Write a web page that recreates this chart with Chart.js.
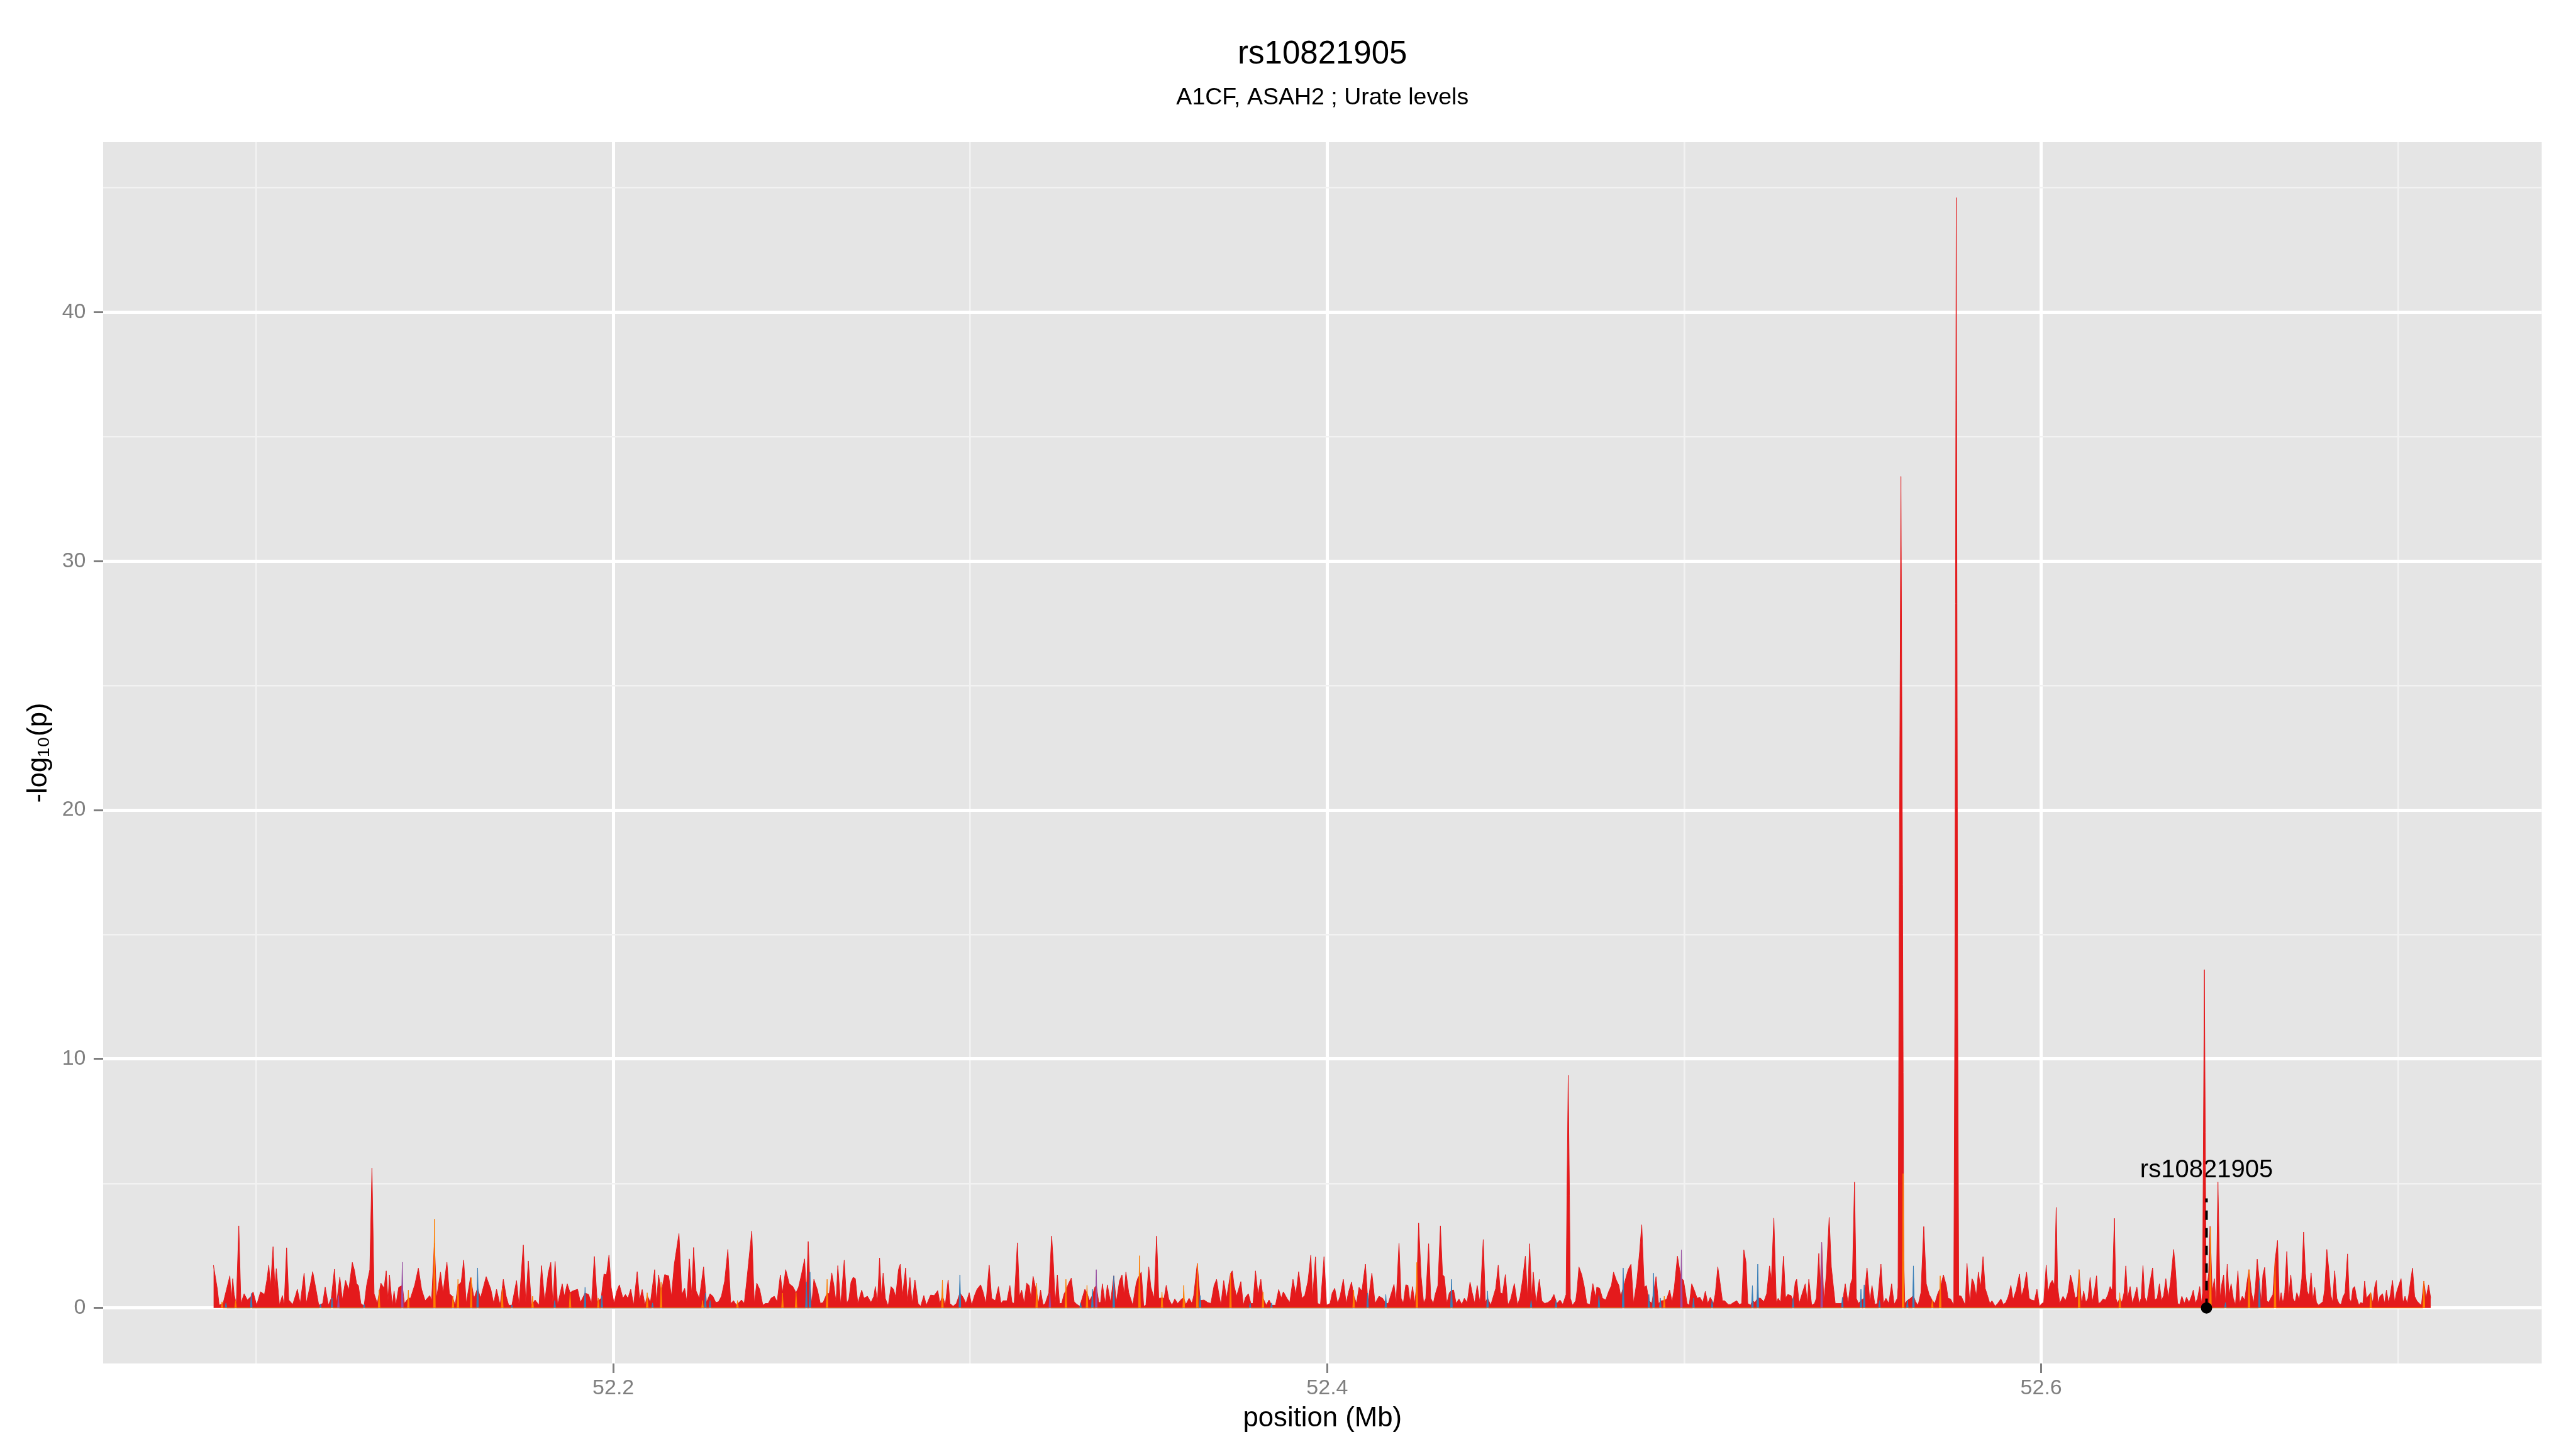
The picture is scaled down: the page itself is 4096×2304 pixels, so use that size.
<!DOCTYPE html>
<html>
<head>
<meta charset="utf-8">
<title>rs10821905</title>
<script src="https://cdn.jsdelivr.net/npm/chart.js@4.4.1/dist/chart.umd.min.js"></script>
<style>
html, body { margin: 0; padding: 0; background: #ffffff; overflow: hidden; }
#wrap { width: 4096px; height: 2304px; }
</style>
</head>
<body>
<div id="wrap"><canvas id="chart" width="4096" height="2304"></canvas></div>
<script>
// Positions are in kb above 52 Mb, values are -log10(p).

var redKb = [
    // 52.088 - 52.250
    88.0, 89.1, 89.6, 90.7, 92.6, 93.0, 93.4, 93.8, 94.4, 95.1,
    95.7, 96.6, 97.5, 98.6, 99.1, 100.1, 101.2, 102.3, 103.0, 103.5,
    104.0, 104.7, 105.2, 105.6, 106.5, 107.3, 107.8, 108.5, 109.1, 110.2,
    111.0, 111.5, 112.3, 113.4, 114.0, 115.1, 115.8, 116.8, 117.5, 118.6,
    119.3, 120.2, 121.0, 121.9, 122.5, 123.4, 124.1, 125.0, 125.9, 126.9,
    127.5, 128.1, 128.6, 129.3, 130.2, 130.9, 131.8, 132.4, 133.0, 133.9,
    134.9, 135.8, 136.4, 136.9, 137.3, 138.1, 138.6, 139.1, 139.9, 140.9,
    141.5, 142.6, 143.2, 144.4, 145.4, 146.3, 147.3, 148.6, 149.1, 149.9,
    150.5, 151.6, 152.3, 153.4, 154.1, 154.9, 155.7, 156.5, 157.4, 158.1,
    158.8, 160.0, 161.0, 162.0, 162.8, 164.4, 165.7, 166.5, 167.3, 168.3,
    169.2, 170.0, 170.7, 171.6, 172.9, 173.6, 174.8, 175.5, 176.2, 177.1,
    178.1, 179.2, 179.9, 180.8, 181.8, 182.5, 183.1, 183.7, 184.4, 185.7,
    186.3, 187.1, 187.9, 188.6, 190.0, 190.8, 192.1, 193.1, 193.9, 194.7,
    195.5, 196.6, 197.4, 198.1, 198.8, 199.4, 200.2, 201.0, 201.7, 202.7,
    203.4, 204.1, 204.9, 205.7, 206.7, 207.4, 208.1, 208.9, 209.5, 210.4,
    211.6, 212.1, 212.7, 213.4, 214.4, 215.5, 216.3, 217.1, 218.4, 219.2,
    220.0, 220.6, 221.3, 222.0, 222.5, 223.2, 224.1, 225.3, 226.1, 227.1,
    227.9, 228.7, 229.5, 230.3, 231.2, 232.1, 232.9, 233.7, 234.5, 235.9,
    236.7, 237.4, 238.8, 239.5, 240.2, 241.0, 241.9, 242.6, 243.4, 244.2,
    245.1, 245.9, 246.8, 247.4, 248.3, 249.3, 250.3,
    // 52.250 - 52.416
    251.2, 251.9, 252.7, 253.6, 254.1, 254.6, 255.1, 255.6, 256.2, 257.2,
    258.0, 258.8, 259.9, 260.5, 261.2, 261.8, 262.4, 262.9, 263.7, 264.7,
    265.4, 266.0, 266.6, 267.2, 267.8, 268.5, 269.6, 270.2, 271.2, 272.2,
    273.0, 273.4, 274.0, 274.6, 275.1, 275.6, 276.2, 277.0, 277.8, 278.5,
    279.1, 279.9, 280.4, 281.0, 281.9, 282.4, 283.1, 283.7, 284.5, 285.4,
    286.1, 287.0, 287.7, 288.9, 289.9, 290.9, 291.5, 292.2, 293.0, 293.8,
    294.3, 295.2, 296.1, 297.1, 298.0, 298.8, 299.7, 300.4, 301.2, 301.9,
    302.9, 303.5, 304.4, 305.3, 306.0, 307.0, 307.9, 308.6, 309.2, 310.3,
    311.1, 311.7, 312.3, 313.2, 313.8, 314.4, 315.1, 315.8, 316.5, 317.0,
    317.6, 318.6, 319.1, 319.7, 320.4, 321.0, 322.0, 322.8, 323.3, 323.8,
    324.4, 325.0, 325.6, 326.3, 326.8, 327.5, 328.3, 329.1, 329.9, 330.7,
    332.1, 332.7, 333.4, 334.2, 334.9, 335.3, 336.0, 336.5, 337.0, 337.8,
    338.4, 339.3, 340.2, 340.9, 341.8, 342.5, 343.1, 343.6, 344.4, 345.5,
    346.5, 347.0, 347.4, 347.9, 348.6, 349.2, 350.0, 350.6, 351.5, 352.2,
    352.8, 353.7, 354.3, 354.9, 355.6, 356.5, 357.3, 358.1, 359.2, 359.8,
    360.4, 361.3, 362.1, 362.6, 363.6, 364.4, 365.5, 366.5, 367.4, 368.3,
    369.0, 369.5, 370.2, 371.0, 371.8, 372.9, 373.4, 373.9, 374.6, 375.8,
    376.5, 377.1, 377.9, 378.6, 379.2, 379.9, 380.6, 381.4, 382.0, 382.9,
    383.7, 384.4, 385.5, 386.4, 387.1, 387.7, 388.7, 389.5, 390.4, 391.2,
    392.0, 392.9, 393.7, 394.6, 395.4, 395.9, 396.7, 397.3, 398.1, 399.1,
    399.8, 400.8, 401.4, 402.1, 402.9, 403.6, 404.5, 405.3, 406.0, 406.8,
    407.4, 408.2, 408.9, 409.7, 410.7, 411.4, 412.5, 413.4, 414.5, 415.5,
    // 52.416 - 52.581
    416.4, 417.1, 418.0, 418.7, 419.3, 420.1, 420.7, 421.3, 422.0, 422.6,
    423.2, 423.9, 424.5, 425.1, 425.6, 426.3, 427.0, 427.6, 428.4, 429.0,
    429.7, 430.3, 431.0, 431.7, 432.3, 432.8, 433.5, 434.2, 434.8, 435.4,
    436.1, 436.9, 437.7, 438.4, 439.2, 440.0, 440.6, 441.3, 442.0, 442.8,
    443.7, 444.3, 444.9, 445.8, 446.6, 447.2, 447.9, 448.5, 449.1, 449.9,
    450.6, 451.4, 452.4, 453.3, 454.0, 454.7, 455.5, 456.1, 456.7, 457.3,
    457.7, 458.5, 459.4, 460.1, 460.9, 461.8, 462.7, 463.5, 464.3, 465.2,
    466.0, 466.9, 467.15, 467.5, 467.85, 468.1, 468.7, 469.6, 470.0, 470.5, 471.3, 472.0,
    472.7, 473.6, 474.4, 475.2, 475.5, 476.3, 477.1, 478.0, 478.9, 479.6,
    480.2, 481.0, 481.7, 482.2, 482.9, 483.6, 484.3, 485.1, 485.8, 486.7,
    487.5, 488.1, 488.8, 489.4, 490.1, 490.9, 491.4, 492.1, 492.8, 493.6,
    494.4, 495.1, 495.9, 496.6, 497.2, 498.1, 498.7, 499.2, 499.8, 500.8,
    501.4, 502.1, 502.9, 503.6, 504.4, 505.2, 505.9, 506.6, 507.3, 508.2,
    508.7, 509.4, 510.0, 510.7, 511.3, 512.3, 513.0, 513.8, 514.7, 515.4,
    516.1, 516.7, 517.3, 517.8, 518.6, 519.1, 519.8, 520.6, 521.4, 522.3,
    523.1, 523.9, 524.4, 525.1, 525.8, 526.3, 527.0, 527.8, 528.4, 529.0,
    529.9, 530.5, 531.1, 531.5, 532.2, 532.8, 533.9, 534.5, 534.9, 535.7,
    536.5, 537.0, 537.7, 538.1, 538.5, 539.1, 539.8, 540.6, 541.2, 541.8,
    542.3, 543.0, 543.7, 544.3, 545.1, 545.9, 546.6, 547.1, 547.7, 548.2,
    548.8, 549.5, 550.4, 551.2, 552.0, 552.6, 553.4, 554.1, 555.1, 555.8,
    556.5, 557.3, 558.1, 558.8, 559.7, 559.9, 560.25, 560.7, 561.15, 561.5, 561.8, 562.5,
    563.4, 564.2, 564.8, 565.5, 566.3, 567.1, 567.8, 568.6, 569.5, 570.2,
    571.0, 571.7, 572.6, 573.4, 573.9, 574.6, 575.5, 575.8, 576.2, 576.6, 576.9, 577.6,
    578.7, 579.2, 580.0, 580.6,
    // 52.581 - 52.709
    581.1, 581.8, 582.4, 583.0, 583.7, 584.3, 585.0, 585.6, 586.2, 587.1,
    587.8, 588.7, 589.4, 590.1, 590.8, 591.5, 592.1, 593.0, 593.9, 594.5,
    595.2, 595.9, 596.6, 597.3, 598.1, 598.8, 599.5, 600.2, 600.7, 601.4,
    601.9, 602.5, 603.1, 603.7, 604.2, 604.6, 605.2, 606.1, 606.8, 607.5,
    608.2, 608.8, 609.5, 610.1, 610.6, 611.3, 611.9, 612.5, 613.1, 613.7,
    614.3, 614.9, 615.5, 616.0, 616.6, 617.3, 618.0, 618.7, 619.3, 619.9,
    620.5, 620.9, 621.4, 622.0, 622.6, 623.2, 623.7, 624.2, 624.9, 625.5,
    626.2, 626.8, 627.4, 628.0, 628.5, 629.0, 629.6, 630.3, 631.2, 631.8,
    632.5, 633.1, 633.7, 634.3, 634.9, 635.6, 636.3, 637.1, 637.6, 638.2,
    638.8, 639.4, 640.1, 640.7, 641.4, 642.1, 642.6, 643.2, 643.8, 644.4,
    644.9, 645.2, 645.7, 646.2, 646.9, 647.3, 647.9, 648.5, 649.0, 649.5,
    650.1, 650.6, 651.1, 651.6, 652.1, 652.6, 653.2, 653.8, 654.4, 655.1,
    655.6, 656.3, 657.0, 657.6, 658.2, 658.9, 659.5, 660.0, 660.5, 661.1,
    661.6, 662.1, 662.6, 663.2, 663.7, 664.3, 664.9, 665.5, 666.2, 666.7,
    667.2, 667.7, 668.2, 668.8, 669.3, 669.9, 670.5, 671.1, 671.6, 672.3,
    673.0, 673.5, 674.0, 674.5, 675.0, 675.6, 676.1, 676.6, 677.1, 677.7,
    678.3, 678.9, 679.4, 680.0, 680.5, 681.1, 681.6, 682.2, 682.8, 683.4,
    684.0, 684.5, 685.1, 685.8, 686.3, 686.8, 687.3, 687.8, 688.3, 689.0,
    689.5, 690.1, 690.6, 691.1, 691.7, 692.3, 692.9, 693.4, 693.9, 694.3,
    694.9, 695.6, 696.2, 696.7, 697.3, 697.8, 698.4, 699.0, 699.5, 700.2,
    700.8, 701.3, 701.9, 702.5, 702.9, 703.4, 704.0, 704.6, 705.2, 705.9,
    706.5, 707.2, 707.8, 708.5, 709.1
];

var redP = [
    // 52.088 - 52.250
    1.72, 0.75, 0.11, 0.18, 1.29, 0.30, 1.18, 0.54, 0.15, 3.30,
    0.18, 0.57, 0.32, 0.47, 0.65, 0.11, 0.65, 0.54, 1.15, 1.72,
    0.83, 2.46, 0.83, 1.58, 0.11, 0.50, 0.11, 2.42, 0.32, 0.14,
    0.50, 0.75, 0.18, 1.40, 0.18, 0.90, 1.46, 0.68, 0.11, 0.18,
    0.84, 0.11, 0.39, 1.56, 0.18, 1.24, 0.32, 1.11, 0.72, 1.83,
    1.51, 0.97, 0.90, 0.18, 0.07, 0.90, 1.54, 5.62, 0.57, 0.18,
    1.00, 0.79, 1.49, 0.29, 1.33, 0.07, 0.68, 0.11, 0.83, 0.90,
    0.18, 0.40, 0.39, 0.93, 1.60, 0.75, 0.29, 0.50, 0.29, 2.60,
    0.39, 1.44, 0.61, 1.84, 0.57, 0.47, 0.11, 0.90, 1.04, 1.92,
    0.18, 1.22, 0.39, 0.80, 0.39, 1.26, 0.75, 0.18, 0.75, 0.11,
    1.15, 0.47, 0.11, 0.11, 1.10, 0.11, 2.53, 0.18, 1.89, 0.11,
    0.32, 0.11, 1.70, 0.25, 1.41, 1.83, 0.11, 1.87, 0.11, 0.97,
    0.47, 0.97, 0.61, 0.68, 0.75, 0.22, 0.60, 0.54, 0.18, 2.07,
    0.25, 0.39, 1.36, 1.33, 2.12, 0.83, 0.18, 0.68, 0.93, 0.39,
    0.54, 0.39, 0.75, 0.11, 1.46, 0.32, 0.74, 0.11, 0.50, 0.22,
    1.54, 0.18, 1.33, 0.60, 1.34, 1.29, 0.47, 1.76, 2.99, 0.54,
    0.79, 0.25, 1.97, 0.47, 2.43, 0.68, 0.39, 1.65, 0.22, 0.57,
    0.47, 0.22, 0.25, 0.47, 1.08, 2.35, 0.18, 0.29, 0.11, 0.32,
    0.18, 1.11, 3.09, 0.18, 1.00, 0.75, 0.11, 0.18, 0.18, 0.39,
    0.47, 0.25, 1.33, 0.61, 1.54, 0.97, 0.86,
    // 52.250 - 52.416
    0.61, 0.83, 1.33, 1.97, 0.50, 2.67, 0.90, 0.18, 1.15, 0.72,
    0.18, 0.22, 0.60, 0.57, 1.41, 0.90, 0.22, 1.70, 0.11, 1.92,
    0.18, 0.36, 1.04, 1.23, 1.18, 0.18, 0.72, 0.39, 0.47, 0.22,
    0.47, 0.86, 0.22, 2.01, 0.47, 1.40, 0.39, 0.07, 0.86, 0.75,
    0.43, 1.54, 1.76, 0.47, 1.61, 0.25, 1.22, 0.18, 1.13, 0.18,
    0.07, 0.50, 0.11, 0.52, 0.50, 0.70, 0.18, 0.50, 0.11, 1.13,
    0.18, 0.07, 0.18, 0.60, 0.43, 0.18, 0.61, 0.11, 0.50, 0.75,
    0.93, 0.68, 0.18, 1.72, 0.39, 0.29, 0.86, 0.18, 0.29, 0.29,
    0.90, 0.22, 0.18, 2.62, 0.47, 0.72, 0.18, 1.00, 0.90, 0.39,
    1.27, 0.60, 0.18, 0.72, 0.11, 0.18, 0.61, 2.89, 1.76, 0.18,
    1.33, 0.18, 0.18, 0.57, 0.70, 0.97, 1.20, 0.25, 0.14, 0.07,
    0.75, 0.60, 0.29, 0.50, 0.83, 0.90, 0.22, 0.22, 0.97, 0.18,
    0.93, 0.22, 1.29, 0.22, 1.08, 1.33, 0.54, 1.44, 0.61, 0.11,
    1.00, 1.22, 1.30, 1.44, 0.07, 0.11, 1.65, 0.83, 0.39, 2.89,
    0.39, 0.40, 0.39, 0.91, 0.36, 0.11, 0.36, 0.18, 0.36, 0.40,
    0.14, 0.39, 0.18, 0.50, 1.79, 0.30, 0.32, 0.22, 0.18, 0.90,
    1.15, 0.68, 0.11, 1.10, 0.39, 1.38, 1.49, 0.90, 0.47, 1.06,
    0.11, 0.43, 0.57, 0.18, 0.18, 1.49, 0.54, 1.15, 0.40, 0.11,
    0.32, 0.11, 0.11, 0.74, 0.39, 0.65, 0.39, 0.22, 1.15, 0.54,
    1.46, 0.39, 0.50, 1.08, 2.12, 0.39, 2.05, 0.18, 0.14, 2.06,
    0.11, 0.18, 0.61, 0.79, 0.18, 0.47, 1.15, 0.18, 0.65, 1.04,
    0.50, 0.18, 0.83, 0.68, 1.76, 0.18, 1.40, 0.18, 0.47, 0.39,
    // 52.416 - 52.581
    0.18, 0.18, 0.61, 0.95, 0.22, 2.60, 0.39, 0.18, 0.93, 0.91,
    0.22, 0.86, 0.18, 1.00, 3.41, 1.26, 0.18, 0.39, 2.58, 0.39,
    0.18, 0.57, 0.90, 3.30, 1.33, 1.26, 0.18, 0.61, 0.70, 0.72,
    0.18, 0.36, 0.14, 0.39, 0.22, 1.04, 0.61, 0.18, 0.90, 0.18,
    2.75, 0.22, 0.40, 0.11, 0.50, 0.79, 1.72, 0.61, 0.57, 1.34,
    0.11, 0.36, 0.98, 0.11, 0.43, 1.11, 2.08, 0.39, 2.58, 0.39,
    1.44, 0.18, 1.15, 0.29, 0.18, 0.22, 0.32, 0.54, 0.18, 0.32,
    0.14, 0.54, 4.50, 9.35, 4.50, 0.39, 0.11, 0.29, 0.75, 1.65, 1.33, 0.86,
    0.18, 0.14, 0.98, 0.39, 0.84, 0.79, 0.39, 0.32, 0.68, 0.90,
    1.44, 1.11, 0.90, 0.47, 0.80, 1.18, 1.54, 1.76, 0.18, 1.04,
    2.26, 3.34, 0.83, 0.90, 0.30, 0.18, 0.60, 1.26, 0.18, 0.29,
    0.30, 0.36, 0.72, 0.25, 0.79, 2.08, 1.54, 1.20, 1.11, 0.18,
    0.11, 0.97, 0.68, 0.39, 0.43, 0.22, 0.67, 0.18, 0.43, 0.18,
    0.57, 1.65, 1.04, 0.29, 0.29, 0.14, 0.14, 0.22, 0.29, 0.14,
    0.18, 2.33, 1.83, 0.18, 0.11, 0.30, 0.22, 0.40, 0.39, 0.25,
    0.57, 1.69, 1.11, 3.61, 0.18, 0.39, 0.22, 2.08, 0.39, 0.54,
    0.50, 0.30, 1.04, 1.15, 0.18, 0.47, 0.97, 0.18, 1.15, 0.11,
    0.18, 0.39, 2.19, 0.83, 2.63, 0.25, 1.33, 3.64, 1.65, 0.83,
    0.18, 0.18, 0.18, 0.20, 0.97, 0.18, 0.97, 1.18, 5.06, 0.39,
    0.18, 0.30, 0.40, 1.61, 0.25, 0.90, 0.14, 0.18, 1.76, 0.18,
    0.39, 0.18, 0.97, 0.14, 0.39, 0.83, 17.0, 33.4, 17.0, 1.90, 0.18, 0.30,
    0.39, 0.50, 0.25, 0.11, 0.61, 3.27, 0.97, 0.54, 0.30, 0.18,
    0.57, 0.80, 1.33, 0.90, 0.39, 0.36, 0.11, 12.0, 44.6, 12.0, 0.50, 0.47,
    0.11, 1.79, 0.18, 1.18,
    // 52.581 - 52.709
    1.04, 0.47, 1.44, 0.79, 2.06, 0.79, 0.47, 0.18, 0.29, 0.07,
    0.18, 0.36, 0.14, 0.22, 0.47, 0.91, 0.32, 0.72, 1.36, 0.47,
    0.83, 1.44, 0.39, 0.32, 0.29, 0.75, 0.07, 0.18, 0.22, 1.72,
    0.61, 0.97, 1.11, 0.90, 4.04, 0.83, 0.18, 0.47, 0.29, 0.61,
    1.33, 0.97, 0.39, 0.47, 1.54, 0.14, 0.68, 0.22, 0.39, 1.22,
    0.22, 0.68, 1.29, 0.18, 0.22, 0.36, 0.32, 0.54, 0.86, 0.68,
    3.60, 0.39, 0.18, 0.40, 0.22, 0.61, 1.69, 0.39, 0.86, 0.18,
    0.50, 0.84, 0.18, 0.39, 1.70, 0.43, 0.22, 0.90, 1.61, 0.32,
    0.39, 0.97, 0.29, 0.50, 1.18, 0.39, 1.15, 2.35, 1.54, 0.18,
    0.14, 0.47, 0.18, 0.43, 0.22, 0.47, 0.72, 0.18, 0.39, 0.86,
    0.18, 0.60, 13.59, 0.50, 1.40, 3.28, 0.61, 1.18, 0.11, 5.06,
    0.39, 0.97, 1.33, 0.22, 1.76, 0.54, 0.97, 0.39, 0.11, 1.49,
    0.18, 0.47, 0.32, 0.97, 1.54, 0.61, 0.18, 0.83, 1.96, 1.11,
    0.22, 1.33, 1.63, 0.29, 0.22, 0.39, 0.54, 1.90, 2.71, 0.18,
    0.61, 0.18, 0.61, 2.27, 0.39, 1.33, 0.39, 0.22, 0.61, 0.32,
    1.18, 3.05, 1.40, 0.68, 0.47, 1.41, 0.29, 0.83, 0.22, 0.11,
    0.18, 0.25, 0.75, 2.35, 1.61, 0.54, 0.22, 1.49, 0.39, 0.18,
    0.14, 0.43, 0.61, 2.17, 0.39, 0.22, 0.79, 0.86, 0.43, 0.11,
    0.22, 0.18, 1.08, 0.39, 0.50, 0.61, 0.18, 0.83, 1.11, 0.18,
    0.47, 0.57, 0.18, 0.72, 0.18, 0.54, 1.11, 0.22, 0.61, 0.93,
    1.18, 0.18, 0.47, 0.18, 0.47, 1.00, 1.60, 0.47, 0.29, 0.18,
    0.11, 1.08, 0.39, 0.93, 0.39
];

// thin spikes of the other traits, drawn over the red area
var orangeKb = [90.4, 94.2, 134.4, 142.6, 149.9, 155.1, 156.5, 160.2, 168.9, 177.4,
    187.9, 195.8, 209.5, 213.4, 225.0, 234.8, 247.4, 251.2, 259.9, 292.2,
    318.6, 326.8, 332.7, 347.4, 353.7, 359.8, 363.6, 372.9, 382.0, 407.4,
    425.1, 494.4, 561.3, 569.5, 571.7, 610.6, 622.0, 647.4, 658.2, 665.5,
    692.3, 707.2];
var orangeP = [0.25, 0.30, 0.72, 0.72, 3.57, 0.47, 1.15, 1.22, 0.80, 0.47,
    0.60, 0.40, 0.61, 1.04, 0.30, 0.30, 0.60, 0.61, 1.15, 1.13,
    1.00, 1.15, 0.91, 2.10, 0.65, 0.91, 1.79, 1.38, 0.65, 0.72,
    1.83, 0.47, 5.40, 0.32, 1.29, 1.54, 0.61, 3.24, 1.54, 1.90,
    0.61, 1.08];

var blueKb = [91.5, 98.6, 118.0, 121.2, 130.2, 162.0, 171.6, 183.6, 192.1, 196.8,
    211.0, 225.8, 227.1, 254.1, 255.1, 297.1, 330.9, 334.2, 340.2, 364.4,
    378.4, 384.4, 411.3, 416.4, 434.8, 444.9, 457.1, 464.1, 476.1, 482.9,
    490.1, 491.4, 493.3, 502.6, 507.8, 519.1, 520.6, 530.5, 544.3, 549.5,
    550.4, 554.7, 562.5, 564.2, 651.6, 661.1];
var blueP = [0.20, 0.60, 0.15, 0.40, 0.15, 1.61, 0.12, 0.30, 0.83, 0.50,
    0.20, 0.60, 0.30, 1.04, 1.44, 1.33, 0.20, 0.75, 1.29, 0.50,
    0.20, 0.20, 0.60, 0.54, 1.15, 0.68, 0.30, 0.30, 0.50, 1.61,
    0.54, 1.40, 0.40, 0.40, 0.30, 0.90, 1.76, 0.39, 0.43, 0.75,
    0.93, 0.30, 0.32, 1.69, 0.22, 1.11];

var purpleKb = [123.0, 140.9, 322.3, 335.3, 499.2, 538.5];
var purpleP = [0.50, 1.84, 0.60, 1.54, 2.33, 2.63];

// the lead SNP
var snpName = 'rs10821905';
var snpKb = 646.3;
var snpDashTop = 4.4;
var snpLabelY = 5.52;

var xTicks = [52.1, 52.2, 52.3, 52.4, 52.5, 52.6, 52.7];
var yTicks = [0, 5, 10, 15, 20, 25, 30, 35, 40, 45];

var FONT = '"Liberation Sans", Arial, Helvetica, sans-serif';

function toMb(kb) {
    return 52 + kb / 1000;
}

function areaPoints(kb, p) {
    if (kb.length != p.length) {
	throw new Error('length mismatch ' + kb.length + ' vs ' + p.length);
    }
    var data = [];
    for (var i = 0; i < kb.length; i++) {
	data.push({x: toMb(kb[i]), y: p[i]});
    }
    return data;
}

// spikePoints draws each value as a narrow triangle standing on zero.
function spikePoints(kb, p) {
    if (kb.length != p.length) {
	throw new Error('spike length mismatch ' + kb.length + ' vs ' + p.length);
    }
    var data = [];
    for (var i = 0; i < kb.length; i++) {
	data.push({x: toMb(kb[i] - 0.25), y: 0});
	data.push({x: toMb(kb[i]), y: p[i]});
	data.push({x: toMb(kb[i] + 0.25), y: 0});
    }
    return data;
}

function spikeDataset(kb, p, color, order) {
    return {
	data: spikePoints(kb, p),
	borderColor: color,
	backgroundColor: color,
	borderWidth: 1,
	fill: 'origin',
	pointRadius: 0,
	order: order,
    };
}

function isMajorX(v) {
    return Math.round(v * 10) % 2 == 0;
}

function isMajorY(v) {
    return v % 10 == 0;
}

var panelBackground = {
    id: 'panelBackground',
    beforeDraw: function(chart) {
	var a = chart.chartArea;
	var ctx = chart.ctx;
	ctx.save();
	ctx.fillStyle = '#E5E5E5';
	ctx.fillRect(a.left, a.top, a.right - a.left, a.bottom - a.top);
	ctx.restore();
    }
};

var snpText = {
    id: 'snpText',
    beforeDatasetsDraw: function(chart) {
	var ctx = chart.ctx;
	var x = chart.scales.x.getPixelForValue(toMb(snpKb));
	var y = chart.scales.y.getPixelForValue(snpLabelY);
	ctx.save();
	ctx.font = '40px ' + FONT;
	ctx.fillStyle = '#000000';
	ctx.textAlign = 'center';
	ctx.textBaseline = 'middle';
	ctx.fillText(snpName, x, y);
	ctx.restore();
    }
};

var conf = {
    type: 'line',
    data: {
	datasets: [
	    {
		data: [{x: toMb(snpKb), y: 0}, {x: toMb(snpKb), y: snpDashTop}],
		borderColor: '#000000',
		borderWidth: 4,
		borderDash: [15, 13],
		fill: false,
		pointRadius: 0,
		order: 0,
	    },
	    {
		data: [{x: toMb(snpKb), y: 0}],
		showLine: false,
		pointRadius: 9,
		pointBackgroundColor: '#000000',
		pointBorderColor: '#000000',
		pointBorderWidth: 0,
		order: 0,
	    },
	    spikeDataset(orangeKb, orangeP, '#FF7F00', 1),
	    spikeDataset(blueKb, blueP, '#377EB8', 2),
	    spikeDataset(purpleKb, purpleP, '#984EA3', 3),
	    {
		data: areaPoints(redKb, redP),
		borderColor: '#E41A1C',
		backgroundColor: '#E41A1C',
		borderWidth: 1,
		fill: 'origin',
		pointRadius: 0,
		order: 10,
	    },
	],
    },
    options: {
	responsive: false,
	animation: false,
	devicePixelRatio: 1,
	layout: {padding: {left: 0, right: 54.5, top: 0, bottom: 0}},
	plugins: {
	    legend: {display: false},
	    tooltip: {enabled: false},
	    title: {
		display: true,
		text: 'rs10821905',
		fullSize: false,
		color: '#000000',
		font: {family: FONT, size: 51, weight: 'normal', lineHeight: 1.2},
		padding: {top: 56.4, bottom: 0},
	    },
	    subtitle: {
		display: true,
		text: 'A1CF, ASAH2 ; Urate levels',
		fullSize: false,
		color: '#000000',
		font: {family: FONT, size: 37.5, weight: 'normal', lineHeight: 1.2},
		padding: {top: 15.4, bottom: 48},
	    },
	},
	scales: {
	    x: {
		type: 'linear',
		min: 52.0571,
		max: 52.7402,
		afterBuildTicks: function(s) {
		    s.ticks = xTicks.map(function(v) { return {value: v}; });
		},
		afterFit: function(s) { s.height = 136; },
		border: {display: false},
		grid: {
		    color: function(c) { return isMajorX(c.tick.value) ? '#FFFFFF' : '#F2F2F2'; },
		    lineWidth: function(c) { return isMajorX(c.tick.value) ? 5 : 2.6; },
		    tickColor: function(c) { return isMajorX(c.tick.value) ? '#7F7F7F' : 'rgba(0,0,0,0)'; },
		    tickLength: 15,
		    tickWidth: 3,
		},
		ticks: {
		    autoSkip: false,
		    maxRotation: 0,
		    padding: 4,
		    color: '#7F7F7F',
		    font: {family: FONT, size: 34},
		    callback: function(v) { return isMajorX(v) ? v.toFixed(1) : ''; },
		},
		title: {
		    display: true,
		    text: 'position (Mb)',
		    color: '#000000',
		    font: {family: FONT, size: 43.7},
		    padding: {top: 0, bottom: 21.8},
		},
	    },
	    y: {
		type: 'linear',
		min: -2.23,
		max: 46.83,
		afterBuildTicks: function(s) {
		    s.ticks = yTicks.map(function(v) { return {value: v}; });
		},
		afterFit: function(s) { s.width = 164; },
		border: {display: false},
		grid: {
		    color: function(c) { return isMajorY(c.tick.value) ? '#FFFFFF' : '#F2F2F2'; },
		    lineWidth: function(c) { return isMajorY(c.tick.value) ? 5 : 2.6; },
		    tickColor: function(c) { return isMajorY(c.tick.value) ? '#7F7F7F' : 'rgba(0,0,0,0)'; },
		    tickLength: 15,
		    tickWidth: 3,
		},
		ticks: {
		    autoSkip: false,
		    padding: 12.5,
		    color: '#7F7F7F',
		    font: {family: FONT, size: 34},
		    callback: function(v) { return isMajorY(v) ? String(v) : ''; },
		},
		title: {
		    display: true,
		    text: '-log\u2081\u2080(p)',
		    color: '#000000',
		    font: {family: FONT, size: 43.7},
		    padding: {top: 35.8, bottom: 0},
		},
	    },
	},
    },
    plugins: [panelBackground, snpText],
};

var chart = new Chart(document.getElementById('chart').getContext('2d'), conf);
</script>
</body>
</html>
